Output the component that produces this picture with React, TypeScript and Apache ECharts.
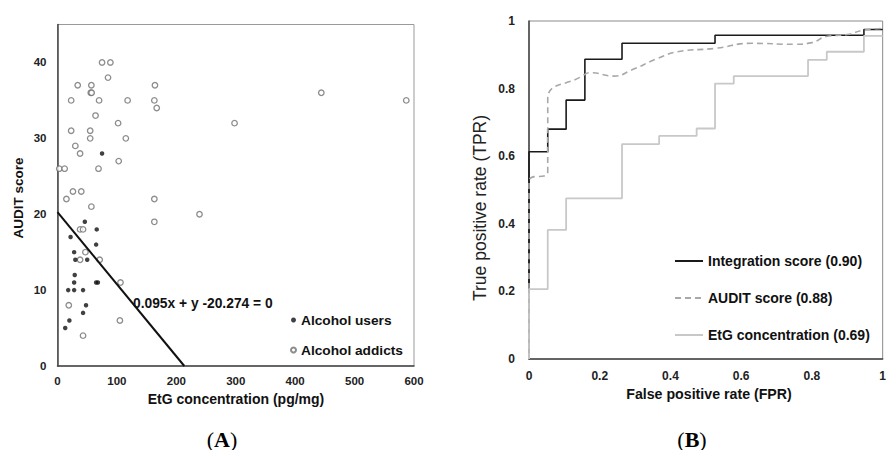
import React, { useEffect, useRef } from "react";
import * as echarts from "echarts";

// Panel A: EtG concentration (pg/mg) vs AUDIT score
const alcoholUsers: number[][] = [
  [75, 28], [46, 19], [22, 17], [66, 18], [65, 16], [28, 15], [30, 14], [50, 14],
  [29, 12], [28, 11], [65, 11], [68, 11], [18, 10], [28, 10], [43, 10], [48, 8],
  [43, 7], [20, 6], [13, 5],
];

const alcoholAddicts: number[][] = [
  [75, 40], [89, 40], [85, 38], [34, 37], [57, 37], [164, 37], [56, 36], [57.5, 36],
  [23, 35], [70, 35], [118, 35], [163, 35], [167, 34], [64, 33], [102, 32], [298, 32],
  [444, 36], [587, 35], [23, 31], [55, 31], [55, 30], [115, 30], [30, 29], [38, 28],
  [103, 27], [3, 26], [12, 26], [69, 26], [26, 23], [40, 23], [15, 22], [163, 22],
  [57, 21], [239, 20], [163, 19], [38, 18], [43, 18], [47, 15], [38, 14], [71, 14],
  [106, 11], [19, 8], [105, 6], [43, 4],
];

// Discriminant line: 0.095x + y - 20.274 = 0
const lineCoefX = 0.095;
const lineConst = 20.274;
const lineLabel = "0.095x + y -20.274 = 0";

// Panel B: ROC curves, [FPR, TPR]
const rocIntegration: number[][] = [
  [0, 0], [0, 0.613], [0.053, 0.613], [0.053, 0.68], [0.105, 0.68], [0.105, 0.766],
  [0.158, 0.766], [0.158, 0.887], [0.263, 0.887], [0.263, 0.934], [0.526, 0.934],
  [0.526, 0.958], [0.947, 0.958], [0.947, 0.975], [1, 0.975],
];

const rocAudit: number[][] = [
  [0, 0], [0, 0.525], [0.053, 0.554], [0.053, 0.769], [0.15, 0.837], [0.175, 0.847],
  [0.24, 0.837], [0.29, 0.855], [0.365, 0.89], [0.42, 0.909], [0.526, 0.919],
  [0.63, 0.934], [0.75, 0.931], [0.8, 0.936], [0.84, 0.954], [0.9, 0.96],
  [0.947, 0.973], [1, 0.978],
];

const rocEtg: number[][] = [
  [0, 0], [0, 0.207], [0.053, 0.207], [0.053, 0.382], [0.105, 0.382], [0.105, 0.475],
  [0.263, 0.475], [0.263, 0.636], [0.368, 0.636], [0.368, 0.66], [0.474, 0.66],
  [0.474, 0.682], [0.526, 0.682], [0.526, 0.815], [0.579, 0.815], [0.579, 0.837],
  [0.789, 0.837], [0.789, 0.885], [0.842, 0.885], [0.842, 0.909], [0.947, 0.909],
  [0.947, 0.956], [1, 0.956],
];

const rocNames = [
  "Integration score (0.90)",
  "AUDIT score (0.88)",
  "EtG concentration (0.69)",
];

const SANS = "'Liberation Sans', Arial, sans-serif";
const SERIF = "'Liberation Serif', 'Times New Roman', serif";

export default function App() {
  const ref = useRef<HTMLDivElement>(null);

  useEffect(() => {
    if (!ref.current) return;
    const chart = echarts.init(ref.current, undefined, { renderer: "svg" });

    const tickLabel = {
      fontFamily: SANS,
      fontWeight: "bold" as const,
      fontSize: 11.5,
      color: "#222",
    };
    const axisLine = { show: true, lineStyle: { color: "#444", width: 1.5 } };

    chart.setOption({
      animation: false,
      backgroundColor: "#fff",
      grid: [
        { left: 57.5, top: 24.5, width: 356.5, height: 341.5, show: true, borderColor: "#9a9a9a", borderWidth: 1 },
        { left: 529, top: 21, width: 359, height: 338, show: true, borderColor: "#8a8a8a", borderWidth: 1 },
      ],
      xAxis: [
        {
          type: "value", gridIndex: 0, min: 0, max: 600, interval: 100,
          axisLine, axisTick: { show: false }, splitLine: { show: false },
          axisLabel: { ...tickLabel, margin: 9 },
        },
        {
          type: "value", gridIndex: 1, min: 0, max: 1, interval: 0.2,
          axisLine, axisTick: { show: false }, splitLine: { show: false },
          axisLabel: { ...tickLabel, fontSize: 12, margin: 11 },
        },
      ],
      yAxis: [
        {
          type: "value", gridIndex: 0, min: 0, max: 45, interval: 10,
          axisLine, axisTick: { show: false }, splitLine: { show: false },
          axisLabel: { ...tickLabel, margin: 11, showMaxLabel: false },
        },
        {
          type: "value", gridIndex: 1, min: 0, max: 1, interval: 0.2,
          axisLine, axisTick: { show: false }, splitLine: { show: false },
          axisLabel: { ...tickLabel, fontSize: 12, margin: 14 },
        },
      ],
      legend: [
        {
          data: ["Alcohol users", "Alcohol addicts"],
          orient: "vertical", left: 290, top: 313, padding: 0,
          itemWidth: 5, itemHeight: 5, itemGap: 16, icon: "circle",
          selectedMode: false,
          textStyle: { fontFamily: SANS, fontWeight: "bold", fontSize: 13.7, color: "#111" },
        },
        {
          data: rocNames,
          orient: "vertical", left: 674, top: 254, padding: 0,
          itemWidth: 28, itemHeight: 4, itemGap: 23,
          itemStyle: { opacity: 0 },
          selectedMode: false,
          textStyle: { fontFamily: SANS, fontWeight: "bold", fontSize: 14, color: "#111" },
        },
      ],
      series: [
        {
          name: "Alcohol addicts", type: "scatter", xAxisIndex: 0, yAxisIndex: 0,
          data: alcoholAddicts, symbol: "circle", symbolSize: 5.5,
          itemStyle: { color: "#fff", borderColor: "#6f6f6f", borderWidth: 1.3 },
        },
        {
          name: "Alcohol users", type: "scatter", xAxisIndex: 0, yAxisIndex: 0,
          data: alcoholUsers, symbol: "circle", symbolSize: 4.5,
          itemStyle: { color: "#111" },
        },
        {
          name: "discriminant", type: "line", xAxisIndex: 0, yAxisIndex: 0,
          data: [[0, lineConst], [lineConst / lineCoefX, 0]],
          symbol: "none", silent: true,
          lineStyle: { color: "#111", width: 2 },
        },
        {
          name: rocNames[0], type: "line", xAxisIndex: 1, yAxisIndex: 1,
          data: rocIntegration, smooth: 0.5, symbol: "none", showSymbol: false,
          lineStyle: { color: "#1a1a1a", width: 1.6 }, itemStyle: { color: "#1a1a1a" },
        },
        {
          name: rocNames[1], type: "line", xAxisIndex: 1, yAxisIndex: 1,
          data: rocAudit, smooth: 0.5, symbol: "none", showSymbol: false,
          lineStyle: { color: "#a8a8a8", width: 1.6, type: [6, 4] }, itemStyle: { color: "#a8a8a8" },
        },
        {
          name: rocNames[2], type: "line", xAxisIndex: 1, yAxisIndex: 1,
          data: rocEtg, smooth: 0.5, symbol: "none", showSymbol: false,
          lineStyle: { color: "#c8c8c8", width: 1.8 }, itemStyle: { color: "#c8c8c8" },
        },
      ],
      graphic: [
        {
          type: "text", x: 18, y: 198, rotation: Math.PI / 2,
          style: { text: "AUDIT score", font: `bold 13.5px ${SANS}`, fill: "#111", textAlign: "center", textVerticalAlign: "middle", align: "center", verticalAlign: "middle" },
        },
        {
          type: "text", x: 236, y: 399,
          style: { text: "EtG concentration (pg/mg)", font: `bold 14px ${SANS}`, fill: "#111", textAlign: "center", textVerticalAlign: "middle", align: "center", verticalAlign: "middle" },
        },
        {
          type: "text", x: 133, y: 303,
          style: { text: lineLabel, font: `bold 13.8px ${SANS}`, fill: "#111", textAlign: "left", textVerticalAlign: "middle", align: "left", verticalAlign: "middle" },
        },
        {
          type: "text", x: 480, y: 208, rotation: Math.PI / 2,
          style: { text: "True positive rate (TPR)", font: `17.5px ${SANS}`, fill: "#222", textAlign: "center", textVerticalAlign: "middle", align: "center", verticalAlign: "middle" },
        },
        {
          type: "text", x: 709, y: 394,
          style: { text: "False positive rate (FPR)", font: `bold 14.2px ${SANS}`, fill: "#111", textAlign: "center", textVerticalAlign: "middle", align: "center", verticalAlign: "middle" },
        },
        {
          type: "text", x: 222, y: 439,
          style: {
            text: "{p|(}{b|A}{p|)}", textAlign: "center", textVerticalAlign: "middle", align: "center", verticalAlign: "middle",
            rich: {
              p: { fontFamily: SERIF, fontSize: 22, color: "#000" },
              b: { fontFamily: SERIF, fontSize: 22, fontWeight: "bold", color: "#000" },
            },
          },
        },
        {
          type: "text", x: 692, y: 439,
          style: {
            text: "{p|(}{b|B}{p|)}", textAlign: "center", textVerticalAlign: "middle", align: "center", verticalAlign: "middle",
            rich: {
              p: { fontFamily: SERIF, fontSize: 22, color: "#000" },
              b: { fontFamily: SERIF, fontSize: 22, fontWeight: "bold", color: "#000" },
            },
          },
        },
      ],
    });

    return () => chart.dispose();
  }, []);

  return (
    <div
      ref={ref}
      style={{ position: "fixed", left: 0, top: 0, width: 889, height: 450 }}
    />
  );
}
